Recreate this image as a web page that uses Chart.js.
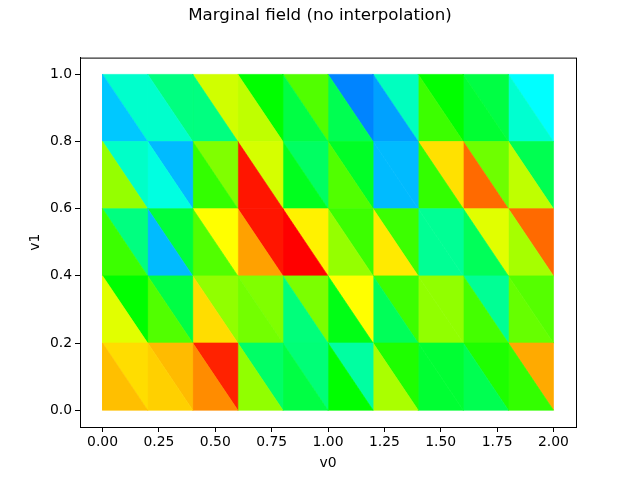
<!DOCTYPE html>
<html>
<head>
<meta charset="utf-8">
<script src="https://cdn.jsdelivr.net/npm/chart.js@4"></script>
<style>
  html, body { margin: 0; padding: 0; background: #fff; }
</style>
</head>
<body>
<canvas id="myChart" width="640" height="480"></canvas>
<script>
const xNodes = [0, 0.2, 0.4, 0.6, 0.8, 1.0, 1.2, 1.4, 1.6, 1.8, 2.0];
const yNodes = [0, 0.2, 0.4, 0.6, 0.8, 1.0];
const xTickValues = [0, 0.25, 0.5, 0.75, 1, 1.25, 1.5, 1.75, 2];
const yTickValues = [0, 0.2, 0.4, 0.6, 0.8, 1];

// field value of each triangle, bottom row first, columns left to right
// lower = lower left triangle of the cell, upper = upper right one
const lowerRow0 = [195, 191, 207, 154, 104, 120, 160, 108, 101, 132];
const upperRow0 = [188, 196, 232, 96, 92, 82, 127, 108, 127, 200];
const lowerRow1 = [173, 139, 188, 147, 91, 115, 99, 154, 136, 144];
const upperRow1 = [120, 104, 154, 150, 149, 180, 134, 154, 85, 140];
const lowerRow2 = [134, 44, 139, 202, 240, 155, 185, 85, 99, 159];
const upperRow2 = [90, 106, 180, 235, 183, 134, 134, 85, 173, 215];
const lowerRow3 = [155, 67, 132, 235, 113, 139, 44, 132, 215, 165];
const upperRow3 = [73, 44, 150, 170, 97, 111, 44, 187, 146, 101];
const lowerRow4 = [47, 72, 90, 165, 104, 101, 38, 134, 108, 71];
const upperRow4 = [72, 90, 169, 120, 139, 31, 75, 120, 104, 60];

const lowerRows = [lowerRow0, lowerRow1, lowerRow2, lowerRow3, lowerRow4];
const upperRows = [upperRow0, upperRow1, upperRow2, upperRow3, upperRow4];

function fieldColor(v) {
  return 'hsl(' + (240 - v) + ', 100%, 50%)';
}

function triangle(points, v) {
  return {
    data: points,
    showLine: true,
    fill: 'shape',
    backgroundColor: fieldColor(v),
    borderColor: fieldColor(v),
    borderWidth: 0.7, // hides the hairline seams between triangles
    pointRadius: 0,
    tension: 0
  };
}

const datasets = [];
lowerRows.forEach(function (row, r) {
  row.forEach(function (v, c) {
    const x0 = xNodes[c], x1 = xNodes[c + 1], y0 = yNodes[r], y1 = yNodes[r + 1];
    datasets.push(triangle([{x: x0, y: y0}, {x: x1, y: y0}, {x: x0, y: y1}, {x: x0, y: y0}], v));
    datasets.push(triangle([{x: x1, y: y0}, {x: x1, y: y1}, {x: x0, y: y1}, {x: x1, y: y0}], upperRows[r][c]));
  });
});

// top and right spines
const frame = {
  id: 'frame',
  afterDraw(chart) {
    const a = chart.chartArea, ctx = chart.ctx;
    ctx.save();
    ctx.strokeStyle = '#000';
    ctx.lineWidth = 1;
    ctx.strokeRect(a.left + 0.5, a.top + 0.5, a.right - a.left, a.bottom - a.top);
    ctx.restore();
  }
};

const font = { family: '"DejaVu Sans"', size: 13.9 };

const config = {
  type: 'scatter',
  data: { datasets: datasets },
  plugins: [frame],
  options: {
    responsive: false,
    animation: false,
    plugins: {
      legend: { display: false },
      tooltip: { enabled: false },
      title: {
        display: true,
        text: 'Marginal field (no interpolation)',
        color: '#000',
        font: { family: '"DejaVu Sans"', size: 16.67, weight: 'normal' },
        padding: { top: 6, bottom: 31.6 }
      }
    },
    scales: {
      x: {
        type: 'linear',
        min: -0.1,
        max: 2.1,
        afterBuildTicks(scale) { scale.ticks = xTickValues.map(v => ({ value: v })); },
        afterFit(scale) { scale.height = 53; },
        grid: { drawOnChartArea: false, color: '#000', tickLength: 5, tickWidth: 1 },
        border: { color: '#000', width: 1 },
        ticks: {
          color: '#000',
          font: font,
          padding: 2,
          maxRotation: 0,
          autoSkip: false,
          callback: v => v.toFixed(2)
        },
        title: { display: true, text: 'v0', color: '#000', font: font, padding: { top: 0, bottom: 8.5 } }
      },
      y: {
        type: 'linear',
        min: -0.05,
        max: 1.05,
        afterBuildTicks(scale) { scale.ticks = yTickValues.map(v => ({ value: v })); },
        afterFit(scale) { scale.width = 80; },
        grid: { drawOnChartArea: false, color: '#000', tickLength: 5, tickWidth: 1 },
        border: { color: '#000', width: 1 },
        ticks: {
          color: '#000',
          font: font,
          padding: 3,
          autoSkip: false,
          callback: v => v.toFixed(1)
        },
        title: { display: true, text: 'v1', color: '#000', font: font, padding: { top: 27, bottom: 0 } }
      },
      // empty axis that keeps the right margin, so the title stays centred on the page
      margin: {
        axis: 'y',
        position: 'right',
        grid: { display: false },
        border: { display: false },
        ticks: { display: false },
        afterFit(scale) { scale.width = 64; }
      }
    }
  }
};

const myChart = new Chart(document.getElementById('myChart'), config);
</script>
</body>
</html>
